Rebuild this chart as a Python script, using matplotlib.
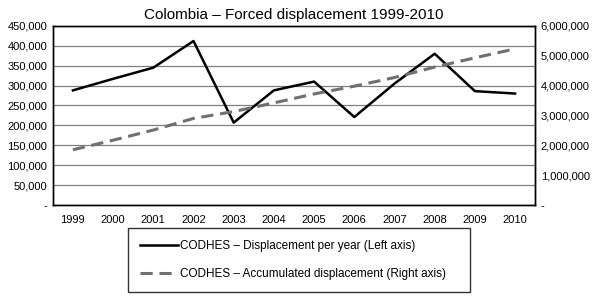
import matplotlib
matplotlib.use("Agg")
import matplotlib.pyplot as plt
from matplotlib.ticker import FuncFormatter

plt.rcParams['font.family'] = ['Liberation Sans', 'DejaVu Sans']

years = ['1999', '2000', '2001', '2002', '2003', '2004', '2005', '2006',
         '2007', '2008', '2009', '2010']
per_year = [288000, 317000, 345000, 412000, 207000, 288000, 310000, 221000,
            305000, 380000, 286000, 280000]
accumulated = [1850000, 2170000, 2510000, 2900000, 3130000, 3420000, 3720000,
               3980000, 4270000, 4620000, 4930000, 5230000]


def fmt(v, pos):
    return '-' if v == 0 else '{:,.0f}'.format(v)


fig = plt.figure(figsize=(6, 3.01), dpi=100)
ax = fig.add_axes([0.088, 0.319, 0.804, 0.595])
ax2 = ax.twinx()

x = list(range(len(years)))
l1, = ax.plot(x, per_year, color='black', lw=1.8,
              label='CODHES – Displacement per year (Left axis)')
l2, = ax2.plot(x, accumulated, color='#707070', lw=2.2, ls=(0, (4, 2.2)),
               label='CODHES – Accumulated displacement (Right axis)')

ax.set_xlim(-0.5, len(years) - 0.5)
ax.set_ylim(0, 450000)
ax2.set_ylim(0, 6000000)
ax.set_yticks(range(0, 450001, 50000))
ax2.set_yticks(range(0, 6000001, 1000000))
ax.yaxis.set_major_formatter(FuncFormatter(fmt))
ax2.yaxis.set_major_formatter(FuncFormatter(fmt))
ax.set_xticks(x)
ax.set_xticklabels(years)
ax.grid(axis='y', color='#808080', lw=0.9)
ax.set_axisbelow(True)
for a in (ax, ax2):
    a.tick_params(length=0, labelsize=8, pad=4)
    for s in a.spines.values():
        s.set_linewidth(1.0)
ax.tick_params(axis='x', pad=7)

ax.set_title('Colombia – Forced displacement 1999-2010', fontsize=11, pad=5)

leg = fig.legend(handles=[l1, l2], loc='upper left',
                 bbox_to_anchor=(128 / 600, 1 - 228 / 301, 342 / 600, 0),
                 mode='expand', borderaxespad=0,
                 fontsize=8.5, frameon=True, fancybox=False, edgecolor='black',
                 handlelength=3.2, labelspacing=1.35, borderpad=1.0,
                 handletextpad=0.2)
leg.get_frame().set_linewidth(1.0)

fig.savefig('out.png', dpi=100)
